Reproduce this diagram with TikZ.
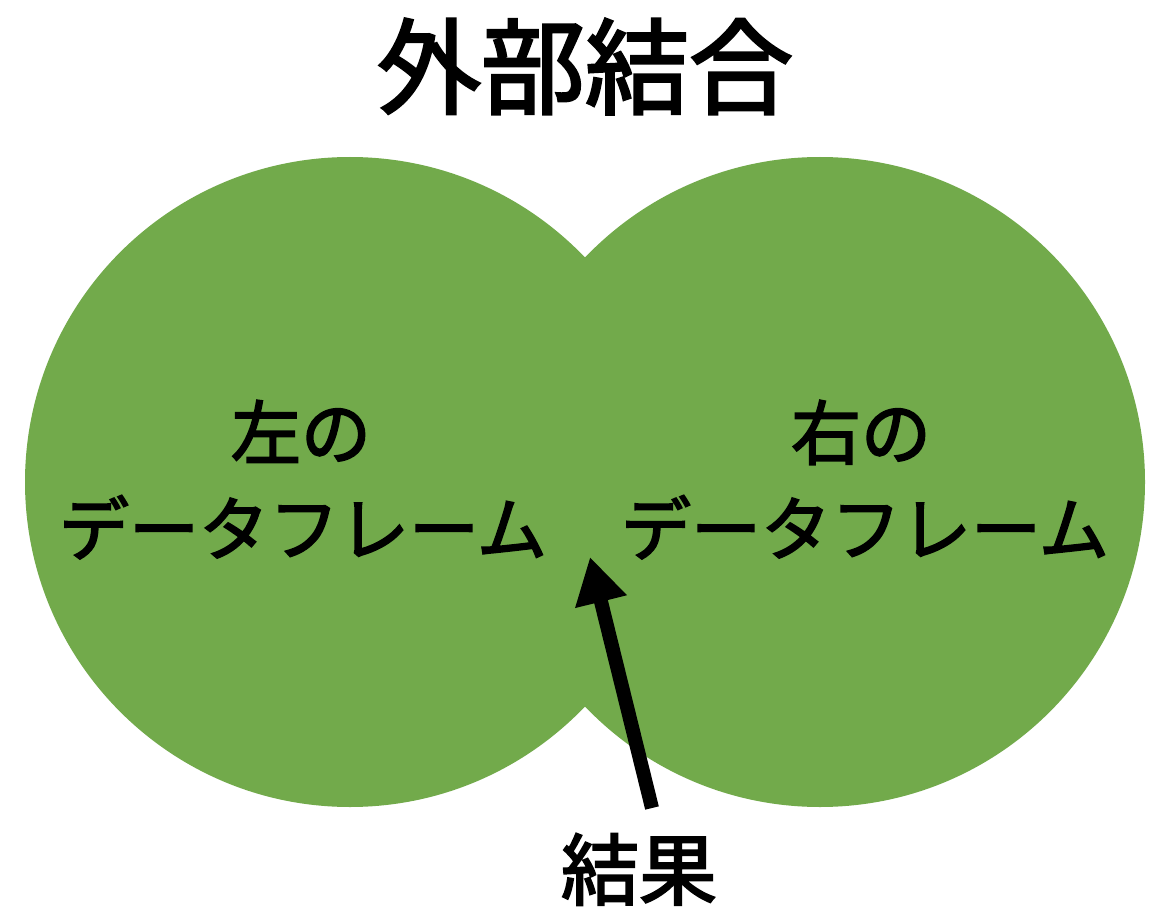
\documentclass[tikz,border=0pt]{standalone}
\usepackage{fontspec}
\newfontfamily\cjk[UprightFeatures={FakeBold=2.5}]{Noto Sans CJK JP}
\usetikzlibrary{arrows.meta}
\definecolor{vgreen}{RGB}{114,170,75}
\tikzset{
  setcircle/.style={circle, fill=vgreen, draw=none, minimum size=650pt, inner sep=0pt},
  titletext/.style={anchor=base, inner sep=0pt, font=\cjk\fontsize{104}{110}\selectfont},
  labeltext/.style={anchor=base, inner sep=0pt, font=\cjk\fontsize{70}{80}\selectfont},
  restext/.style={anchor=base, inner sep=0pt, font=\cjk\fontsize{78}{84}\selectfont},
  bigarrow/.style={line width=14pt, -{Triangle[length=46pt,width=50pt]}}
}
\begin{document}
\begin{tikzpicture}[x=1pt,y=-1pt]
\useasboundingbox (0,0) rectangle (1162,912);
\fill[white] (0,0) rectangle (1162,912);
\node[setcircle] (L) at (350,482) {};
\node[setcircle] (R) at (820,482) {};
\node[titletext] (title) at (585,106) {外部結合};
\node[labeltext] (l1) at (301,459) {左の};
\node[labeltext] (l2) at (303,555) {データフレーム};
\node[labeltext] (r1) at (861,459) {右の};
\node[labeltext] (r2) at (865,555) {データフレーム};
\node[restext] (res) at (639,899) {結果};
\coordinate (tail) at (652,808);
\coordinate (tip) at (590,557);
\draw[bigarrow] (tail) -- (tip);
\end{tikzpicture}
\end{document}
